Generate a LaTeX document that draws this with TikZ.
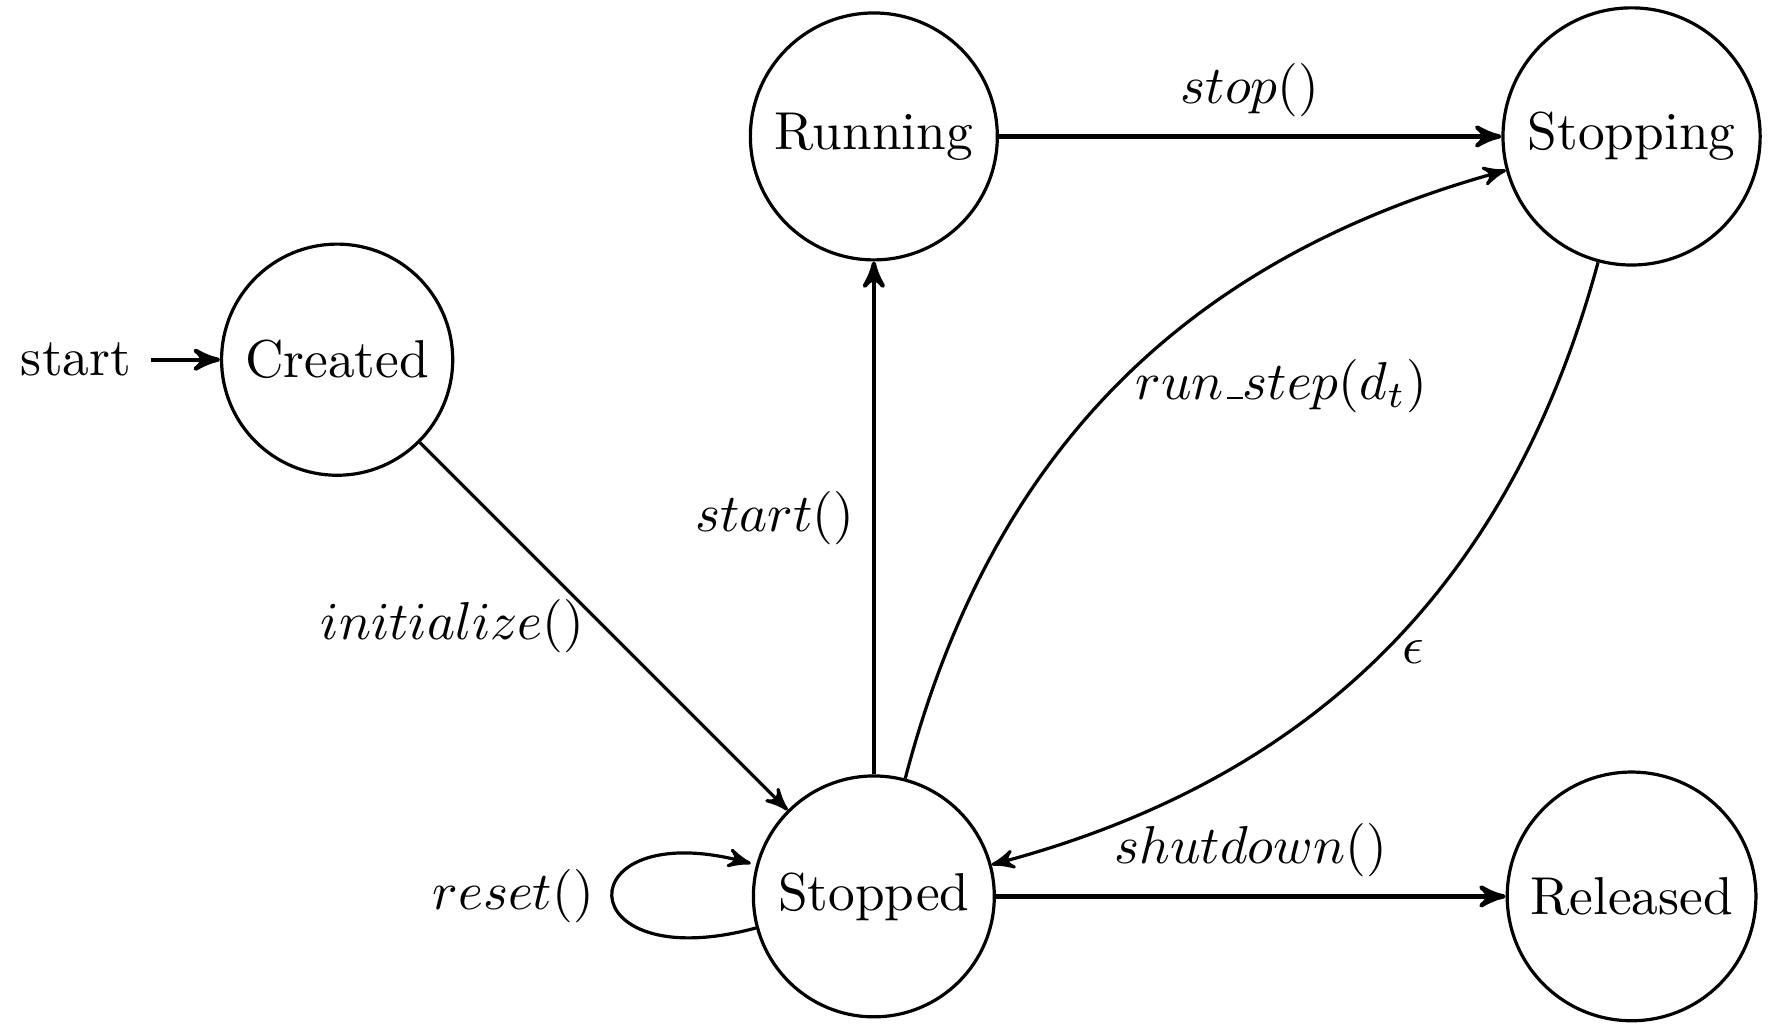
\documentclass[tikz,border=0pt]{standalone}
\usetikzlibrary{automata,arrows,positioning}
\newcommand\lowbar{\kern.06em\vbox{\hrule width.3em}}
\begin{document}
\begin{tikzpicture}[x=0.2114pt,y=-0.2114pt,>=stealth',semithick,
  every state/.style={draw,circle,inner sep=.3333em},
  straightedge/.style={thick},
  every initial by arrow/.style={thick},
  auto]
\useasboundingbox (0,0) rectangle (1568,910);
\node[state,initial,initial text=start] (created) at (299,319) {Created};
\node[state] (running)  at (775,121) {Running};
\node[state] (stopping) at (1447,121) {Stopping};
\node[state] (stopped)  at (775,795) {Stopped};
\node[state] (released) at (1447,795) {Released};
\path[->]
  (created) edge node[left] {$initialize()$} (stopped)
  (stopped) edge[straightedge] node[left] {$start()$} (running)
  (running) edge[straightedge] node[above] {$stop()$} (stopping)
  (stopped) edge[bend left] node[right] {$run\lowbar step(d_t)$} (stopping)
  (stopping) edge[bend left] node[right] {$\epsilon$} (stopped)
  (stopped) edge[straightedge] node[above] {$shutdown()$} (released)
  (stopped) edge[loop left] node[left] {$reset()$} (stopped);
\end{tikzpicture}
\end{document}
